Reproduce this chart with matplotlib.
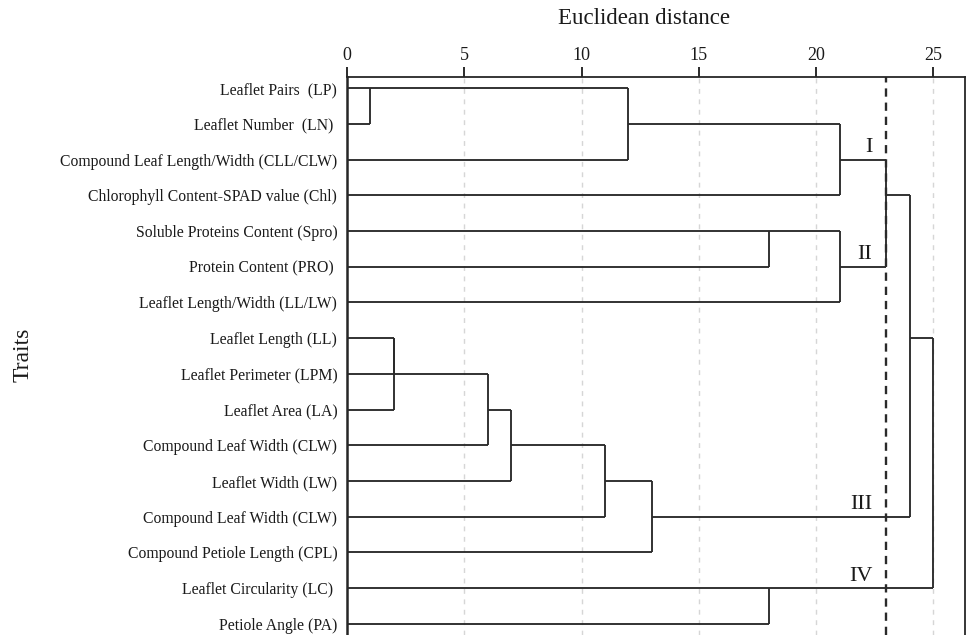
import matplotlib
matplotlib.use("Agg")
import matplotlib.pyplot as plt

plt.rcParams["font.family"] = ["Liberation Serif", "DejaVu Serif"]

# Leaf order, top to bottom
traits = [
    "Leaflet Pairs  (LP)",
    "Leaflet Number  (LN) ",
    "Compound Leaf Length/Width (CLL/CLW)",
    "Chlorophyll Content-SPAD value (Chl)",
    "Soluble Proteins Content (Spro)",
    "Protein Content (PRO) ",
    "Leaflet Length/Width (LL/LW)",
    "Leaflet Length (LL)",
    "Leaflet Perimeter (LPM)",
    "Leaflet Area (LA)",
    "Compound Leaf Width (CLW)",
    "Leaflet Width (LW)",
    "Compound Leaf Width (CLW)",
    "Compound Petiole Length (CPL)",
    "Leaflet Circularity (LC) ",
    "Petiole Angle (PA)",
]

# Agglomeration schedule: node ids 0..15 are leaves, new clusters get 16, 17, ...
merge_left = [0, 7, 17, 18, 19, 20, 16, 21, 4, 14, 22, 24, 26, 28, 29]
merge_right = [1, 8, 9, 10, 11, 12, 2, 13, 5, 15, 3, 6, 27, 23, 25]
merge_height = [1, 2, 2, 6, 7, 11, 12, 13, 18, 18, 21, 21, 23, 24, 25]

cut_height = 23
cluster_names = ["I", "II", "III", "IV"]
cluster_rows = [2, 5, 12, 14]

x_ticks = [0, 5, 10, 15, 20, 25]

fig = plt.figure(figsize=(9.72, 6.35), dpi=100)
ax = fig.add_axes([347 / 972, 0, (965 - 347) / 972, 1 - 77 / 635])

n = len(traits)
row = {i: i for i in range(n)}
height = {i: 0.0 for i in range(n)}

line_kw = dict(color="#2a2a2a", lw=1.35, solid_capstyle="butt", zorder=3)

for k, (a, b, h) in enumerate(zip(merge_left, merge_right, merge_height)):
    node = n + k
    ra, rb = row[a], row[b]
    # horizontal branches from each child up to the merge distance
    ax.plot([height[a], h], [ra, ra], **line_kw)
    ax.plot([height[b], h], [rb, rb], **line_kw)
    # vertical connector
    ax.plot([h, h], [ra, rb], **line_kw)
    row[node] = (ra + rb) // 2
    height[node] = h

# grid lines
for t in x_ticks[1:]:
    ax.axvline(t, color="#d6d6d6", lw=1.0, ls=(0, (3.5, 4)), zorder=1)

# cut line
ax.axvline(cut_height, color="#2a2a2a", lw=1.7, ls=(0, (3.5, 2.5)), zorder=2)

for name, r in zip(cluster_names, cluster_rows):
    ax.text(22.4, r - 0.07, name, ha="right", va="bottom", fontsize=16,
            color="#1a1a1a")

ax.set_xlim(0, 26.35)
ax.set_ylim(15.31, -0.31)

ax.xaxis.tick_top()
ax.set_xticks(x_ticks)
ax.tick_params(axis="x", direction="out", length=7, width=1.3, pad=2,
               labelsize=13, colors="#1a1a1a")
ax.set_yticks(range(n))
ax.set_yticklabels(traits)
ax.tick_params(axis="y", length=0, pad=7, labelsize=11.3, colors="#1a1a1a")

ax.spines["bottom"].set_visible(False)
ax.spines["left"].set_linewidth(1.8)
ax.spines["top"].set_linewidth(1.3)
ax.spines["right"].set_linewidth(1.3)
for s in ("left", "top", "right"):
    ax.spines[s].set_color("#262626")

fig.text(644 / 972, 1 - 19 / 635, "Euclidean distance", ha="center",
         va="center", fontsize=16.5, color="#1a1a1a")
fig.text(23 / 972, 1 - 355 / 635, "Traits", ha="center", va="center",
         rotation=90, fontsize=17, color="#1a1a1a")

fig.savefig("out.png", dpi=100)
